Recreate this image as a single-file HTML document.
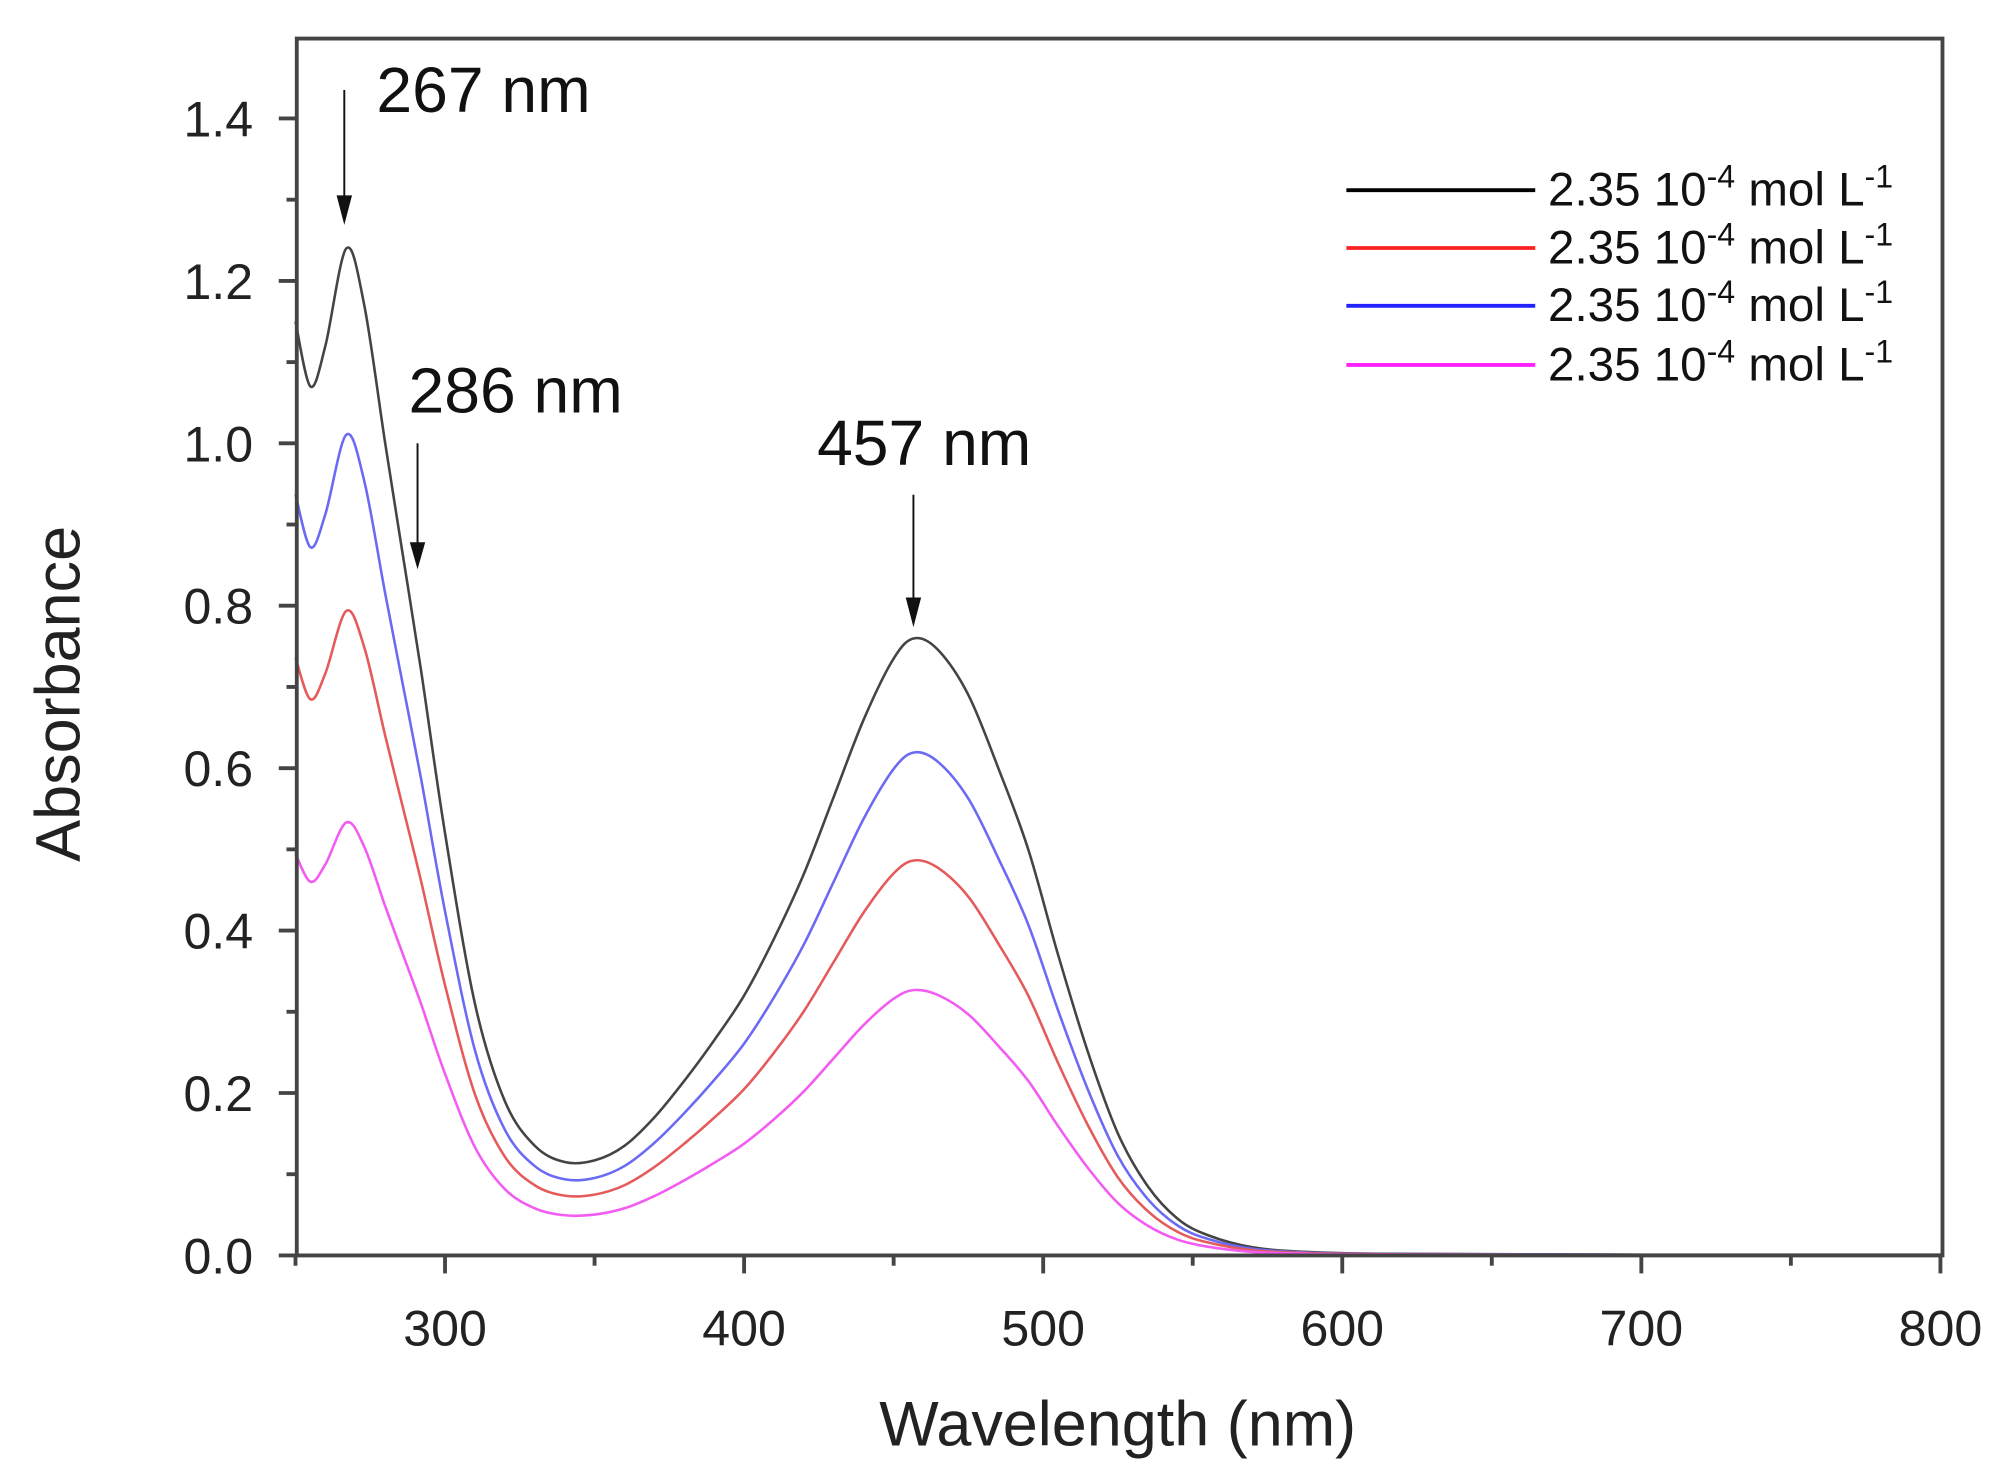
<!DOCTYPE html>
<html><head><meta charset="utf-8"><style>html,body{margin:0;padding:0;background:#fff}svg{display:block}</style></head>
<body>
<svg id="s" width="2008" height="1479" viewBox="0 0 1563 1151" preserveAspectRatio="none" xmlns="http://www.w3.org/2000/svg" font-family="Liberation Sans, Arial, sans-serif">
<rect width="1563" height="1151" fill="#fff"/>
<g id="curves"></g>
<g stroke="#444" stroke-width="3" fill="none">
<path d="M231 30 H1512 V977 H231 Z"/>
</g>
<g id="ticks" stroke="#444" stroke-width="3"></g>
<g font-size="39" fill="#222" text-anchor="end" id="ylab"></g>
<g font-size="39" fill="#222" text-anchor="middle" id="xlab"></g>
<text x="870" y="1125" font-size="49" text-anchor="middle" fill="#222">Wavelength (nm)</text>
<text transform="translate(62 540) rotate(-90)" font-size="49" text-anchor="middle" fill="#222">Absorbance</text>
<g font-size="50" fill="#111">
<text x="293" y="87">267 nm</text>
<text x="318" y="321">286 nm</text>
<text x="636" y="362">457 nm</text>
</g>
<g stroke="#111" stroke-width="1.5">
<line x1="268" y1="70" x2="268" y2="155"/>
<line x1="325" y1="345" x2="325" y2="425"/>
<line x1="711" y1="385" x2="711" y2="468"/>
</g>
<g fill="#111">
<path d="M262 152 L274 152 L268 175 Z"/>
<path d="M319 422 L331 422 L325 443 Z"/>
<path d="M705 465 L717 465 L711 488 Z"/>
</g>
<g stroke-width="3">
<line x1="1048" y1="148" x2="1195" y2="148" stroke="#000"/>
<line x1="1048" y1="193" x2="1195" y2="193" stroke="#f22"/>
<line x1="1048" y1="238" x2="1195" y2="238" stroke="#22f"/>
<line x1="1048" y1="284" x2="1195" y2="284" stroke="#f2f"/>
</g>
<g font-size="37" fill="#111">
<text x="1205" y="160">2.35 10<tspan dy="-14" font-size="25">-4</tspan><tspan dy="14"> mol L</tspan><tspan dy="-14" font-size="25">-1</tspan></text>
<text x="1205" y="205">2.35 10<tspan dy="-14" font-size="25">-4</tspan><tspan dy="14"> mol L</tspan><tspan dy="-14" font-size="25">-1</tspan></text>
<text x="1205" y="250">2.35 10<tspan dy="-14" font-size="25">-4</tspan><tspan dy="14"> mol L</tspan><tspan dy="-14" font-size="25">-1</tspan></text>
<text x="1205" y="296">2.35 10<tspan dy="-14" font-size="25">-4</tspan><tspan dy="14"> mol L</tspan><tspan dy="-14" font-size="25">-1</tspan></text>
</g>
</svg>
<script>
var NS="http://www.w3.org/2000/svg";
function X(l){return 230+(l-250)*2.328}
function Y(a){return 977-a*632}
function el(p,t,at,txt){var e=document.createElementNS(NS,t);for(var k in at)e.setAttribute(k,at[k]);if(txt)e.textContent=txt;document.getElementById(p).appendChild(e);}
for(var i=0;i<=14;i++){var y=Y(i/10);var L=i%2==0?14:8;el("ticks","line",{x1:231-L,y1:y,x2:231,y2:y});if(i%2==0)el("ylab","text",{x:197,y:y+14},(i/10).toFixed(1));}
for(var l=250;l<=800;l+=50){var x=X(l);var L=l%100==0?14:8;el("ticks","line",{x1:x,y1:977,x2:x,y2:977+L});if(l%100==0&&l>=300)el("xlab","text",{x:x,y:1047},""+l);}
var P=[[250,1.15],[255,1.07],[260,1.12],[267,1.24],[273,1.17],[280,1.0],[286,0.86],[292,0.72],[300,0.52],[310,0.31],[320,0.19],[330,0.135],[340,0.115],[350,0.117],[360,0.135],[370,0.17],[380,0.215],[390,0.265],[400,0.32],[410,0.39],[420,0.47],[430,0.565],[440,0.66],[450,0.735],[457,0.76],[465,0.745],[475,0.69],[485,0.6],[495,0.5],[505,0.37],[515,0.25],[525,0.15],[535,0.085],[545,0.045],[555,0.025],[570,0.01],[590,0.004],[620,0.002],[700,0.001],[800,0.001]];
function path(f){var pts=P.map(function(p){return [X(p[0]),Y(p[1]*f)]});var d="M"+pts[0][0]+" "+pts[0][1];
for(var i=0;i<pts.length-1;i++){var p0=pts[Math.max(0,i-1)],p1=pts[i],p2=pts[i+1],p3=pts[Math.min(pts.length-1,i+2)];
d+=" C"+(p1[0]+(p2[0]-p0[0])/6)+" "+(p1[1]+(p2[1]-p0[1])/6)+" "+(p2[0]-(p3[0]-p1[0])/6)+" "+(p2[1]-(p3[1]-p1[1])/6)+" "+p2[0]+" "+p2[1];}return d;}
[[1,"#444"],[0.815,"#6a6af5"],[0.64,"#e55a5a"],[0.43,"#f25cf2"]].forEach(function(c){el("curves","path",{d:path(c[0]),fill:"none",stroke:c[1],"stroke-width":2});});
</script>
</body></html>
